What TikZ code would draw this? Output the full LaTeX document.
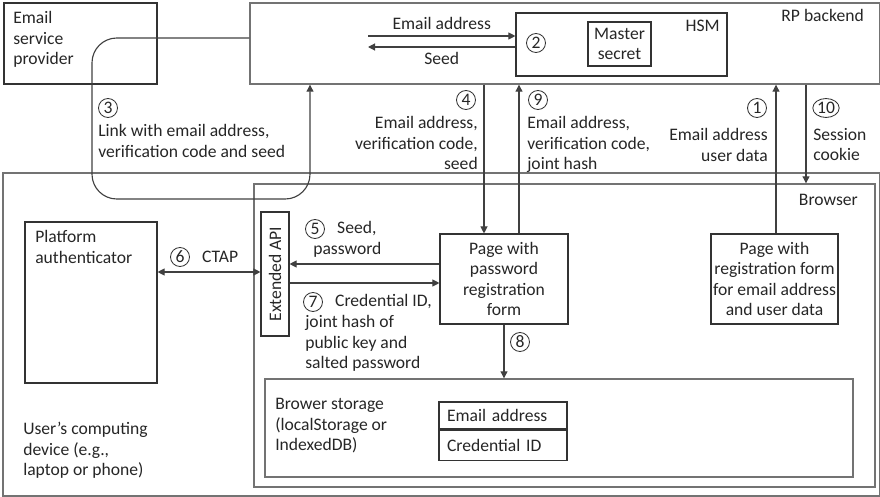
\documentclass[tikz,border=0pt]{standalone}
\usepackage{fontspec}
\setmainfont{Carlito}
\usetikzlibrary{arrows.meta,positioning,shapes.geometric}
\newcommand{\pxu}{0.025cm}

\begin{document}
\begin{tikzpicture}[
  x=0.025cm, y=0.025cm,
  font=\fontsize{12.5}{14.6}\selectfont,
  outer/.style={draw=black!55, line width=1pt, inner sep=0pt},
  box/.style={draw=black!80, line width=0.8pt, align=center, inner sep=0pt,
              text=black!85},
  lbl/.style={inner sep=0pt, align=left, text=black!85},
  num/.style={ellipse, draw=black!80, line width=0.6pt, inner sep=0.3pt,
              minimum width=13.5pt, minimum height=13.5pt, text=black!85},
  flow/.style={draw=black!75, line width=0.8pt,
               -{Triangle[length=5pt,width=5pt]}},
  dflow/.style={flow, {Triangle[length=5pt,width=5pt]}-{Triangle[length=5pt,width=5pt]}}
]
\useasboundingbox (0,0) rectangle (880,496);

% containers
\node[outer, minimum width=630*\pxu, minimum height=81*\pxu] (rp) at (565,452.5) {};
\node[outer, minimum width=877*\pxu, minimum height=323*\pxu] (device) at (441.5,161.5) {};
\node[outer, minimum width=621*\pxu, minimum height=303*\pxu] (browser) at (564.5,160.5) {};
\node[outer, minimum width=588*\pxu, minimum height=98*\pxu] (storage) at (559,68) {};

% boxes
\node[box, minimum width=153*\pxu, minimum height=81*\pxu] (esp) at (80.5,452.5) {};
\node[box, minimum width=211*\pxu, minimum height=63*\pxu] (hsm) at (621.5,451.5) {};
\node[box, minimum width=63*\pxu, minimum height=44*\pxu] (master) at (619.5,452) {Master\\secret};
\node[box, minimum width=132*\pxu, minimum height=161*\pxu] (platform) at (91,193.5) {};
\node[box, rotate=90, minimum width=124*\pxu, minimum height=28*\pxu] (api) at (275,222) {Extended API};
\node[box, minimum width=128*\pxu, minimum height=90*\pxu] (pwpage) at (504,217)
  {Page with\\password\\registration\\form};
\node[box, minimum width=127*\pxu, minimum height=90*\pxu] (regpage) at (774.5,217)
  {Page with\\registration form\\for email address\\and user data};
\node[box, minimum width=128*\pxu, minimum height=27*\pxu, text width=112*\pxu, align=left] (cellmail) at (503,80.5) {Email address};
\node[box, minimum width=128*\pxu, minimum height=30*\pxu, text width=112*\pxu, align=left, below=0pt of cellmail] (cellcred) {Credential ID};

% box titles
\node[lbl, anchor=north west] (esptxt) at (13,485) {Email\\service\\provider};
\node[lbl, anchor=north east] (rptxt) at (864,487) {RP backend};
\node[lbl, anchor=north east] (hsmtxt) at (720,476) {HSM};
\node[lbl, anchor=north east] (browsertxt) at (858,302) {Browser};
\node[lbl, anchor=north west] (platformtxt) at (35,266) {Platform\\authenticator};
\node[lbl, anchor=north west] (storagetxt) at (275,98) {Brower storage\\(localStorage or\\IndexedDB)};
\node[lbl, anchor=north west] (devicetxt) at (23,74) {User’s computing\\device (e.g.,\\laptop or phone)};

% columns and rows of the connectors
\coordinate (c3) at (310,0);
\coordinate (c3l) at (92,0);
\coordinate (c4) at (484,0);
\coordinate (c9) at (519,0);
\coordinate (c1) at (776,0);
\coordinate (c10) at (806,0);
\coordinate (r3top) at (0,458);
\coordinate (r3) at (0,297);
\coordinate (r5) at (0,232);
\coordinate (r6) at (0,224);
\coordinate (r7) at (0,213);
\coordinate (mailtail) at (368,460);
\coordinate (seedhead) at (368,449);

% inside the RP backend
\draw[flow] (mailtail) -- (hsm.west |- mailtail)
  node[lbl, midway, above=4pt] {Email address};
\draw[flow] (hsm.west |- seedhead) -- (seedhead)
  node[lbl, midway, below=3.5pt] {Seed};
\node[num] (n2) at (536,453) {2};

% (3) link through the email provider
\draw[flow, rounded corners=0.62cm] (rp.west |- r3top) -- (c3l |- r3top)
  -- (c3l |- r3) -- (c3 |- r3) -- (c3 |- rp.south);
\node[num] (n3) at (108,388) {3};
\node[lbl, anchor=north west] (t3) at (98,372) {Link with email address,\\verification code and seed};

% (4) and (9)
\draw[flow] (c4 |- rp.south) -- (c4 |- pwpage.north);
\draw[flow] (c9 |- pwpage.north) -- (c9 |- rp.south);
\node[num] (n4) at (466,396) {4};
\node[lbl, anchor=north east, align=right] (t4) at (478,380) {Email address,\\verification code,\\seed};
\node[num] (n9) at (538,396) {9};
\node[lbl, anchor=north west] (t9) at (527,380) {Email address,\\verification code,\\joint hash};

% (1) and (10)
\draw[flow] (c1 |- regpage.north) -- (c1 |- rp.south);
\draw[flow] (c10 |- rp.south) -- (c10 |- browser.north);
\node[num] (n1) at (757,388) {1};
\node[lbl, anchor=north east, align=right] (t1) at (768,368) {Email address\\user data};
\node[num] (n10) at (826,388) {10};
\node[lbl, anchor=north west] (t10) at (813,368) {Session\\cookie};

% (5), (6), (7)
\draw[flow] (pwpage.west |- r5) -- (api.south |- r5);
\draw[flow] (api.south |- r7) -- (pwpage.west |- r7);
\draw[dflow] (platform.east |- r6) -- (api.north |- r6);
\node[num] (n5) at (315,267) {5};
\node[lbl, right=0.3cm of n5] (t5) {Seed,};
\node[lbl, anchor=north west] (t5b) at (313,254) {password};
\node[num] (n6) at (180,239) {6};
\node[lbl, right=0.3cm of n6] (t6) {CTAP};
\node[num] (n7) at (313,194) {7};
\node[lbl, right=0.3cm of n7] (t7) {Credential ID,};
\node[lbl, anchor=north west] (t7b) at (305,181) {joint hash of\\public key and\\salted password};

% (8)
\draw[flow] (pwpage.south) -- (storage.north -| pwpage.south);
\node[num] (n8) at (520,154) {8};
\end{tikzpicture}
\end{document}
